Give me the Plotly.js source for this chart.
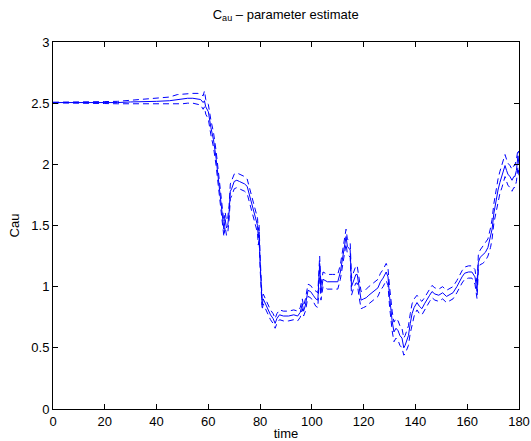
<!DOCTYPE html>
<html>
<head>
<meta charset="utf-8">
<script src="https://cdn.plot.ly/plotly-3.0.1.min.js"></script>
<style>html,body{margin:0;padding:0;background:#fff;}#chart{width:531px;height:441px;}</style>
</head>
<body>
<div id="chart"></div>
<script>
const time = [0,5,10,15,20,25,30,35,40,45,48,50,52,54,56,57,58,58.5,59,60,61,62,63,64,65,65.5,66,66.5,67,67.5,68,68.5,69,70,71,72,73,74,75,76,76.5,77,78,78.5,79,79.3,79.6,80,80.4,80.8,81.2,82,82.7,84,85,85.8,86.5,87.5,89,91,93,94.5,95.5,96.3,96.8,97.5,98.5,99.5,100.5,101.5,102.3,103,103.5,104.3,106,108,110,111,111.7,112.5,113.2,113.7,114.8,115.3,116,117,117.5,118.2,119,120,121,122,123.3,124.5,125.5,126.5,127.5,128.7,129.4,130,130.5,131,131.7,132.5,133.3,134,134.8,135.5,136,136.7,137.3,138,138.7,139.5,140.6,141.5,142.5,143.5,144.5,145.5,146.4,147.5,149,150.5,152,153,154.5,156,157.2,158,159,160.5,161.8,163,163.8,164.3,165,166,167,168,169,169.6,170.3,170.7,171.3,171.9,172.6,173.4,174,174.6,175.2,175.7,176.5,177.3,178,178.4,179,179.6,180];
const estimate = [2.505,2.505,2.505,2.503,2.505,2.505,2.51,2.51,2.515,2.52,2.53,2.535,2.54,2.54,2.535,2.53,2.505,2.52,2.47,2.43,2.3,2.2,2.05,1.85,1.65,1.52,1.47,1.55,1.48,1.5,1.6,1.78,1.8,1.86,1.87,1.86,1.85,1.84,1.82,1.74,1.68,1.65,1.58,1.52,1.5,1.4,1.45,1.2,0.95,0.85,0.9,0.86,0.83,0.77,0.74,0.7,0.74,0.77,0.76,0.76,0.77,0.76,0.79,0.86,0.8,0.85,0.97,0.96,0.93,0.9,0.89,1.19,0.95,1.06,1.04,1.04,1.04,1.12,1.22,1.32,1.41,1.33,1.3,1.0,1.05,1.1,1.1,0.99,0.89,0.9,0.91,0.93,0.95,0.97,0.99,1.04,1.07,1.12,1.08,0.92,0.8,0.72,0.63,0.66,0.64,0.6,0.58,0.5,0.52,0.57,0.6,0.7,0.78,0.83,0.87,0.84,0.82,0.86,0.89,0.93,0.96,0.94,0.93,0.95,0.92,0.93,0.95,1.0,1.05,1.08,1.11,1.12,1.12,1.08,0.96,1.2,1.24,1.26,1.28,1.32,1.4,1.47,1.6,1.65,1.74,1.79,1.85,1.9,1.95,1.99,1.95,1.92,1.9,1.87,1.9,1.9,1.95,2.07,2.0];
const upperBound = [2.508,2.508,2.509,2.508,2.513,2.515,2.525,2.53,2.54,2.55,2.57,2.575,2.58,2.58,2.58,2.575,2.56,2.6,2.53,2.49,2.36,2.26,2.11,1.91,1.71,1.58,1.53,1.61,1.54,1.56,1.66,1.84,1.87,1.92,1.93,1.92,1.91,1.9,1.88,1.8,1.74,1.71,1.64,1.58,1.56,1.46,1.51,1.25,1.0,0.89,0.94,0.9,0.87,0.81,0.78,0.74,0.78,0.81,0.8,0.8,0.81,0.8,0.83,0.9,0.84,0.9,1.02,1.01,0.98,0.96,0.95,1.25,1.01,1.12,1.1,1.1,1.1,1.18,1.28,1.38,1.47,1.39,1.36,1.07,1.12,1.17,1.17,1.06,0.96,0.97,0.98,1.0,1.02,1.04,1.06,1.11,1.14,1.19,1.15,1.0,0.88,0.8,0.71,0.74,0.72,0.68,0.66,0.58,0.6,0.65,0.68,0.78,0.86,0.9,0.93,0.9,0.88,0.91,0.94,0.98,1.01,0.99,0.98,1.0,0.97,0.98,1.0,1.05,1.1,1.13,1.16,1.17,1.17,1.14,1.02,1.26,1.3,1.33,1.35,1.39,1.48,1.55,1.68,1.74,1.83,1.88,1.94,1.99,2.04,2.08,2.04,2.01,1.99,1.96,1.99,1.99,2.04,2.12,2.09];
const lowerBound = [2.502,2.502,2.501,2.498,2.497,2.495,2.495,2.49,2.49,2.49,2.49,2.495,2.5,2.5,2.49,2.485,2.45,2.47,2.41,2.37,2.24,2.14,1.99,1.79,1.59,1.46,1.41,1.49,1.42,1.44,1.54,1.72,1.74,1.8,1.81,1.8,1.79,1.78,1.76,1.68,1.62,1.59,1.52,1.46,1.44,1.34,1.39,1.15,0.9,0.81,0.86,0.82,0.79,0.73,0.7,0.66,0.7,0.73,0.72,0.72,0.73,0.72,0.75,0.82,0.76,0.8,0.92,0.91,0.88,0.84,0.83,1.13,0.89,1.0,0.98,0.98,0.98,1.06,1.16,1.26,1.35,1.27,1.24,0.93,0.98,1.03,1.03,0.92,0.82,0.83,0.84,0.86,0.88,0.9,0.92,0.97,1.0,1.05,1.01,0.84,0.72,0.64,0.55,0.58,0.56,0.52,0.5,0.44,0.45,0.49,0.52,0.62,0.7,0.76,0.81,0.78,0.77,0.81,0.84,0.88,0.91,0.89,0.88,0.9,0.87,0.88,0.9,0.95,1.0,1.03,1.06,1.07,1.07,1.02,0.9,1.14,1.18,1.19,1.21,1.25,1.32,1.39,1.52,1.56,1.65,1.7,1.76,1.81,1.86,1.9,1.86,1.83,1.81,1.78,1.81,1.81,1.86,1.98,1.91];

const xTicks = [0,20,40,60,80,100,120,140,160,180];
const yTicks = [0,0.5,1,1.5,2,2.5,3];
const yTickText = ['0','0.5','1','1.5','2','2.5','3'];

const blue = '#0000ff';
const traces = [
  {x: time, y: estimate, mode: 'lines', line: {color: blue, width: 1}, hoverinfo: 'skip'},
  {x: time, y: upperBound, mode: 'lines', line: {color: blue, width: 1, dash: '6px,4px'}, hoverinfo: 'skip'},
  {x: time, y: lowerBound, mode: 'lines', line: {color: blue, width: 1, dash: '6px,4px'}, hoverinfo: 'skip'}
];

const axisCommon = {
  showgrid: false, zeroline: false, showline: true, linecolor: '#000', linewidth: 1,
  mirror: 'ticks', ticks: 'inside', ticklen: 5, tickwidth: 1, tickcolor: '#000',
  tickfont: {family: 'Liberation Sans, Arial, sans-serif', size: 13, color: '#000'}
};

const layout = {
  width: 531, height: 441,
  margin: {l: 52.5, r: 12, t: 42, b: 32},
  paper_bgcolor: '#fff', plot_bgcolor: '#fff',
  showlegend: false,
  font: {family: 'Liberation Sans, Arial, sans-serif', size: 13, color: '#000'},
  title: {text: 'C<sub>au</sub> – parameter estimate', x: 0.538, xanchor: 'center', y: 0.968, yanchor: 'middle', font: {size: 13, color: '#000'}},
  xaxis: Object.assign({}, axisCommon, {range: [0, 180], tickvals: xTicks, ticktext: xTicks.map(String),
    title: {text: 'time', standoff: 2, font: {size: 13}}}),
  yaxis: Object.assign({}, axisCommon, {range: [0, 3], tickvals: yTicks, ticktext: yTickText,
    title: {text: 'Cau', standoff: 8, font: {size: 13}}})
};

Plotly.newPlot('chart', traces, layout, {displayModeBar: false, staticPlot: true});
</script>
</body>
</html>
